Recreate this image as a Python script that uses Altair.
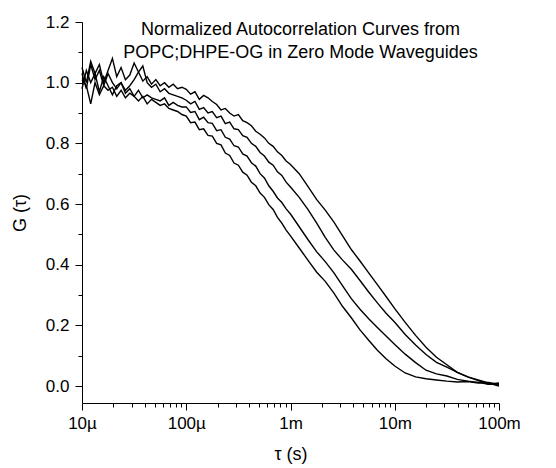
import altair as alt
import pandas as pd

# lag times (s)
tau = [1.000e-5, 1.101e-5, 1.212e-5, 1.334e-5, 1.468e-5, 1.616e-5, 1.778e-5, 1.958e-5,
       2.154e-5, 2.371e-5, 2.610e-5, 2.873e-5, 3.162e-5, 3.481e-5, 3.831e-5, 4.217e-5,
       4.642e-5, 5.109e-5, 5.623e-5, 6.190e-5, 6.813e-5, 7.499e-5, 8.254e-5, 9.085e-5,
       1.000e-4, 1.101e-4, 1.212e-4, 1.334e-4, 1.468e-4, 1.616e-4, 1.778e-4, 1.958e-4,
       2.154e-4, 2.371e-4, 2.610e-4, 2.873e-4, 3.162e-4, 3.481e-4, 3.831e-4, 4.217e-4,
       4.642e-4, 5.109e-4, 5.623e-4, 6.190e-4, 6.813e-4, 7.499e-4, 8.254e-4, 9.085e-4,
       1.000e-3, 1.212e-3, 1.468e-3, 1.778e-3, 2.154e-3, 2.610e-3, 3.162e-3, 3.831e-3,
       4.642e-3, 5.623e-3, 6.813e-3, 8.254e-3,
       1.000e-2, 1.259e-2, 1.585e-2, 1.995e-2, 2.512e-2, 3.162e-2, 3.981e-2, 5.012e-2,
       6.310e-2, 7.943e-2, 1.000e-1]

g_a = [1.01, 0.99, 0.93, 1.0, 0.96, 0.99, 0.975, 0.985, 0.955, 0.975, 0.95, 0.965,
       0.955, 0.94, 0.955, 0.93, 0.945, 0.935, 0.925, 0.93, 0.915, 0.91, 0.905, 0.895,
       0.89, 0.868, 0.87, 0.845, 0.848, 0.826, 0.824, 0.80, 0.795, 0.768, 0.76, 0.735,
       0.728, 0.705, 0.695, 0.672, 0.66, 0.636, 0.622, 0.598, 0.582, 0.556, 0.537, 0.514,
       0.495, 0.455, 0.415, 0.376, 0.345, 0.306, 0.262, 0.225, 0.185, 0.151, 0.118, 0.09,
       0.066, 0.043, 0.03, 0.024, 0.02, 0.016, 0.013, 0.015, 0.01, 0.012, 0.005]

g_b = [0.98, 1.04, 1.0, 1.03, 0.97, 1.02, 0.99, 0.96, 0.99, 1.0, 0.965, 0.98,
       0.955, 0.975, 0.95, 0.96, 0.95, 0.945, 0.94, 0.95, 0.925, 0.935, 0.925, 0.92,
       0.92, 0.902, 0.905, 0.878, 0.886, 0.868, 0.866, 0.842, 0.845, 0.82, 0.814, 0.792,
       0.788, 0.765, 0.758, 0.736, 0.725, 0.70, 0.686, 0.66, 0.642, 0.62, 0.605, 0.584,
       0.567, 0.525, 0.483, 0.443, 0.41, 0.373, 0.33, 0.288, 0.253, 0.222, 0.193, 0.165,
       0.137, 0.105, 0.077, 0.052, 0.04, 0.033, 0.022, 0.016, 0.012, 0.006, 0.008]

g_c = [1.03, 0.98, 1.06, 1.01, 1.04, 0.99, 1.03, 1.0, 0.98, 1.0, 0.975, 0.99,
       1.01, 1.035, 1.055, 1.0, 0.985, 0.995, 0.97, 0.98, 0.965, 0.96, 0.955, 0.95,
       0.942, 0.93, 0.938, 0.912, 0.918, 0.90, 0.905, 0.885, 0.89, 0.865, 0.87, 0.848,
       0.845, 0.825, 0.82, 0.80, 0.79, 0.77, 0.758, 0.738, 0.728, 0.706, 0.694, 0.672,
       0.656, 0.622, 0.582, 0.538, 0.49, 0.448, 0.415, 0.385, 0.348, 0.31, 0.274, 0.24,
       0.21, 0.17, 0.135, 0.104, 0.078, 0.062, 0.045, 0.03, 0.02, 0.01, 0.0]

g_d = [1.05, 1.0, 1.07, 1.03, 1.06, 1.0, 1.04, 1.08, 1.02, 1.05, 1.01, 1.025,
       1.065, 1.035, 1.005, 1.02, 0.995, 1.01, 0.99, 1.0, 0.985, 0.995, 0.98, 0.985,
       0.978, 0.962, 0.97, 0.945, 0.958, 0.95, 0.938, 0.928, 0.91, 0.915, 0.90, 0.89,
       0.895, 0.875, 0.868, 0.858, 0.84, 0.83, 0.818, 0.80, 0.79, 0.772, 0.76, 0.742,
       0.73, 0.70, 0.658, 0.615, 0.58, 0.54, 0.495, 0.45, 0.412, 0.373, 0.334, 0.295,
       0.255, 0.21, 0.167, 0.128, 0.095, 0.07, 0.045, 0.03, 0.018, 0.006, 0.01]

curve_names = ["A", "B", "C", "D"]
x_major = [1e-5, 1e-4, 1e-3, 1e-2, 1e-1]
x_minor = [2e-5, 3e-5, 4e-5, 5e-5, 6e-5, 7e-5, 8e-5, 9e-5,
           2e-4, 3e-4, 4e-4, 5e-4, 6e-4, 7e-4, 8e-4, 9e-4,
           2e-3, 3e-3, 4e-3, 5e-3, 6e-3, 7e-3, 8e-3, 9e-3,
           2e-2, 3e-2, 4e-2, 5e-2, 6e-2, 7e-2, 8e-2, 9e-2]
y_major = [0.0, 0.2, 0.4, 0.6, 0.8, 1.0, 1.2]
y_minor = [0.1, 0.3, 0.5, 0.7, 0.9, 1.1]
title_lines = ["Normalized Autocorrelation Curves from",
               "POPC;DHPE-OG in Zero Mode Waveguides"]

rows = []
for name, series in zip(curve_names, [g_a, g_b, g_c, g_d]):
    for t, g in zip(tau, series):
        rows.append({"tau": t, "G": g, "curve": name})
df = pd.DataFrame(rows)

FONT = "Liberation Sans"
xscale = alt.Scale(type="log", domain=[1e-5, 0.1], nice=False)
yscale = alt.Scale(domain=[-0.056, 1.2], nice=False, zero=False)

lines = alt.Chart(df).mark_line(color="black", strokeWidth=1.4).encode(
    x=alt.X("tau:Q", scale=xscale,
            axis=alt.Axis(values=x_major, labelExpr="format(datum.value, '~s')",
                          title="τ (s)", orient="bottom", tickSize=7,
                          labelPadding=5, titlePadding=14, labelFlush=False)),
    y=alt.Y("G:Q", scale=yscale,
            axis=alt.Axis(values=y_major, format=".1f", title="G (τ)",
                          orient="left", tickSize=7, labelPadding=6,
                          titlePadding=16)),
    detail="curve:N",
)

minor = alt.Chart(df).mark_line(opacity=0).encode(
    x=alt.X("tau:Q", scale=xscale,
            axis=alt.Axis(values=x_minor, labels=False, domain=False, tickSize=4,
                          title=None, orient="bottom")),
    y=alt.Y("G:Q", scale=yscale,
            axis=alt.Axis(values=y_minor, labels=False, domain=False, tickSize=4,
                          title=None, orient="left")),
    detail="curve:N",
)

chart = alt.layer(lines, minor).resolve_axis(
    x="independent", y="independent"
).properties(
    width=417, height=381,
    autosize=alt.AutoSizeParams(type="none"),
    padding={"left": 74, "top": 14, "right": 40, "bottom": 62},
    title=alt.TitleParams(text=title_lines, font=FONT, fontSize=18,
                          fontWeight="normal", color="black", anchor="middle",
                          dx=10, offset=-49, baseline="top", lineHeight=23),
).configure_view(strokeWidth=0).configure_axis(
    grid=False, domainColor="black", tickColor="black", labelColor="black",
    titleColor="black", labelFont=FONT, titleFont=FONT, labelFontSize=17,
    titleFontSize=18, titleFontWeight="normal", domainWidth=1, tickWidth=1,
)

chart.save("out.html", embed_options={"renderer": "svg", "actions": False})
